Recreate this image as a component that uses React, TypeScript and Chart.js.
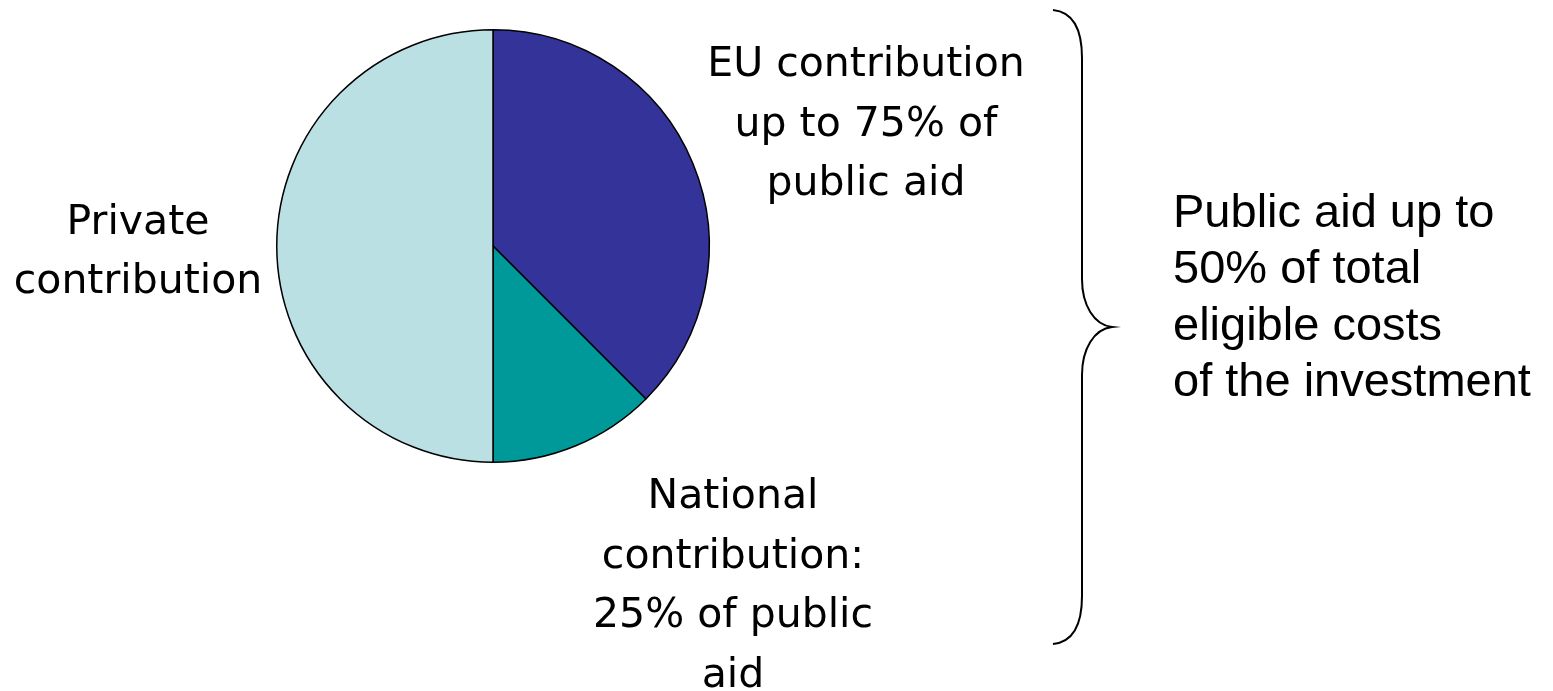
import React, { useEffect, useRef } from "react";
import { Chart, registerables } from "chart.js";

Chart.register(...registerables);

// Data: shares of total eligible cost (%)
const categories = ["EU contribution", "National contribution", "Private contribution"];
const shares = [37.5, 12.5, 50];
const sliceColors = ["#333399", "#009999", "#BBE0E3"];

// Annotation texts
const euLines = ["EU contribution", "up to 75% of", "public aid"];
const nationalLines = ["National", "contribution:", "25% of public", "aid"];
const privateLines = ["Private", "contribution"];
const publicAidLines = ["Public aid up to", "50% of total", "eligible costs", "of the investment"];

const W = 1553;
const H = 691;

const annotationPlugin = {
  id: "annotations",
  afterDraw(chart: any) {
    const ctx = chart.ctx as CanvasRenderingContext2D;
    ctx.save();
    ctx.fillStyle = "#000";
    ctx.textBaseline = "alphabetic";

    const drawBlock = (lines: string[], x: number, y0: number, step: number, align: CanvasTextAlign, font: string) => {
      ctx.font = font;
      ctx.textAlign = align;
      lines.forEach((l, i) => ctx.fillText(l, x, y0 + i * step));
    };

    const labelFont = '41px "DejaVu Sans"';
    drawBlock(euLines, 866, 76, 59.5, "center", labelFont);
    drawBlock(privateLines, 138, 234, 59, "center", labelFont);
    drawBlock(nationalLines, 733, 508, 59.7, "center", labelFont);
    drawBlock(publicAidLines, 1173, 227, 56.3, "left", '47px "Liberation Sans"');

    // curly brace
    const xv = 1082;
    const xt = 1053;
    const xm = 1112;
    const yTop = 10;
    const yMid = 327;
    const yBot = 644;
    const r = 48;
    ctx.beginPath();
    ctx.lineWidth = 2;
    ctx.strokeStyle = "#000";
    ctx.moveTo(xt, yTop);
    ctx.bezierCurveTo(xt + 20, yTop + 2, xv, yTop + 20, xv, yTop + r);
    ctx.lineTo(xv, yMid - r);
    ctx.bezierCurveTo(xv, yMid - 22, xm - 18, yMid - 2, xm, yMid);
    ctx.bezierCurveTo(xm - 18, yMid + 2, xv, yMid + 22, xv, yMid + r);
    ctx.lineTo(xv, yBot - r);
    ctx.bezierCurveTo(xv, yBot - 20, xt + 20, yBot - 2, xt, yBot);
    ctx.stroke();
    ctx.restore();
  },
};

export default function App() {
  const ref = useRef<HTMLCanvasElement | null>(null);

  useEffect(() => {
    if (!ref.current) return;
    const chart = new Chart(ref.current, {
      type: "pie",
      data: {
        labels: categories,
        datasets: [
          {
            data: shares,
            backgroundColor: sliceColors,
            borderColor: "#000000",
            borderWidth: 1.5,
          },
        ],
      },
      options: {
        responsive: false,
        animation: false,
        events: [],
        layout: {
          padding: { left: 276, top: 29, right: W - 710, bottom: H - 463 },
        },
        plugins: {
          legend: { display: false },
          tooltip: { enabled: false },
        },
      },
      plugins: [annotationPlugin],
    });
    return () => chart.destroy();
  }, []);

  return (
    <div style={{ position: "absolute", left: 0, top: 0, width: W, height: H, background: "#fff" }}>
      <canvas ref={ref} width={W} height={H} style={{ display: "block", width: W, height: H }} />
    </div>
  );
}
